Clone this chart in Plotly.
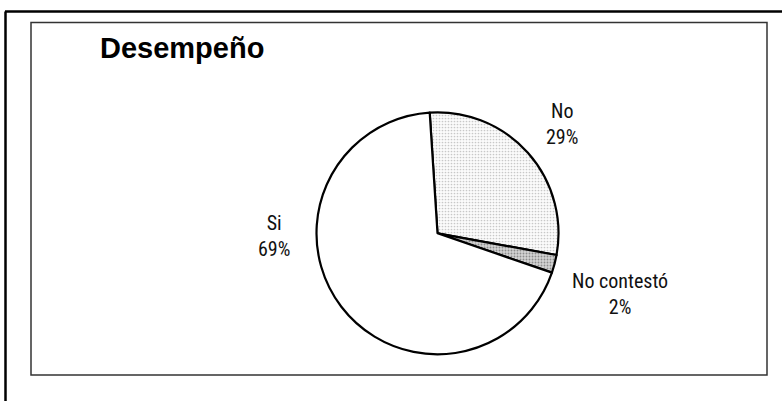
import plotly.graph_objects as go

W, H = 782, 401

categories = ["No", "No contestó", "Si"]
values = [28.9, 2.4, 68.7]
label_px = [(562, 124), (620, 294), (274, 236)]

title_text = "Desempeño"

fig = go.Figure()

cx, cy, r = 437.5, 233.3, 121
fig.add_trace(go.Pie(
    labels=categories,
    values=values,
    sort=False,
    direction="clockwise",
    rotation=-3.7,
    textinfo="none",
    hoverinfo="label+percent",
    showlegend=False,
    marker=dict(
        colors=["#ffffff", "#c8c8c8", "#ffffff"],
        line=dict(color="#000000", width=2.2),
        pattern=dict(
            shape=[".", ".", ""],
            fgcolor=["#c8c8c8", "#8c8c8c", "#ffffff"],
            bgcolor=["#fbfbfb", "#d4d4d4", "#ffffff"],
            size=[3, 3, 3],
            solidity=[0.25, 0.3, 0.1],
        ),
    ),
    domain=dict(x=[(cx - r) / W, (cx + r) / W], y=[1 - (cy + r) / H, 1 - (cy - r) / H]),
))

total = sum(values)
annotations = []
for cat, val, (px, py) in zip(categories, values, label_px):
    annotations.append(dict(
        x=px / W, y=1 - py / H, xref="paper", yref="paper",
        text=f"{cat}<br>{round(val / total * 100):.0f}%",
        showarrow=False, xanchor="center", yanchor="middle", align="center",
        font=dict(family="Liberation Sans Narrow, Roboto Condensed, DejaVu Sans Condensed, sans-serif",
                  size=20, color="#111111"),
    ))
annotations.append(dict(
    x=98 / W, y=1 - 48 / H, xref="paper", yref="paper", text=f"<b>{title_text}</b>",
    showarrow=False, xanchor="left", yanchor="middle",
    font=dict(family="Liberation Sans, Arial, sans-serif", size=29, color="#000000"),
))

shapes = [
    dict(type="rect", xref="paper", yref="paper",
         x0=31 / W, x1=767 / W, y0=1 - 375 / H, y1=1 - 22.5 / H,
         line=dict(color="#333333", width=1.5)),
    dict(type="line", xref="paper", yref="paper",
         x0=5 / W, x1=1.01, y0=1 - 11.5 / H, y1=1 - 11.5 / H,
         line=dict(color="#000000", width=2.5)),
    dict(type="line", xref="paper", yref="paper",
         x0=5.5 / W, x1=5.5 / W, y0=-0.01, y1=1 - 11.5 / H,
         line=dict(color="#000000", width=2.5)),
]

fig.update_layout(
    width=W, height=H,
    margin=dict(l=0, r=0, t=0, b=0),
    paper_bgcolor="#ffffff", plot_bgcolor="#ffffff",
    annotations=annotations, shapes=shapes,
)

fig.write_html("out.html", config={"displayModeBar": False},
               post_script="document.body.style.margin='0';document.body.style.overflow='hidden';")
